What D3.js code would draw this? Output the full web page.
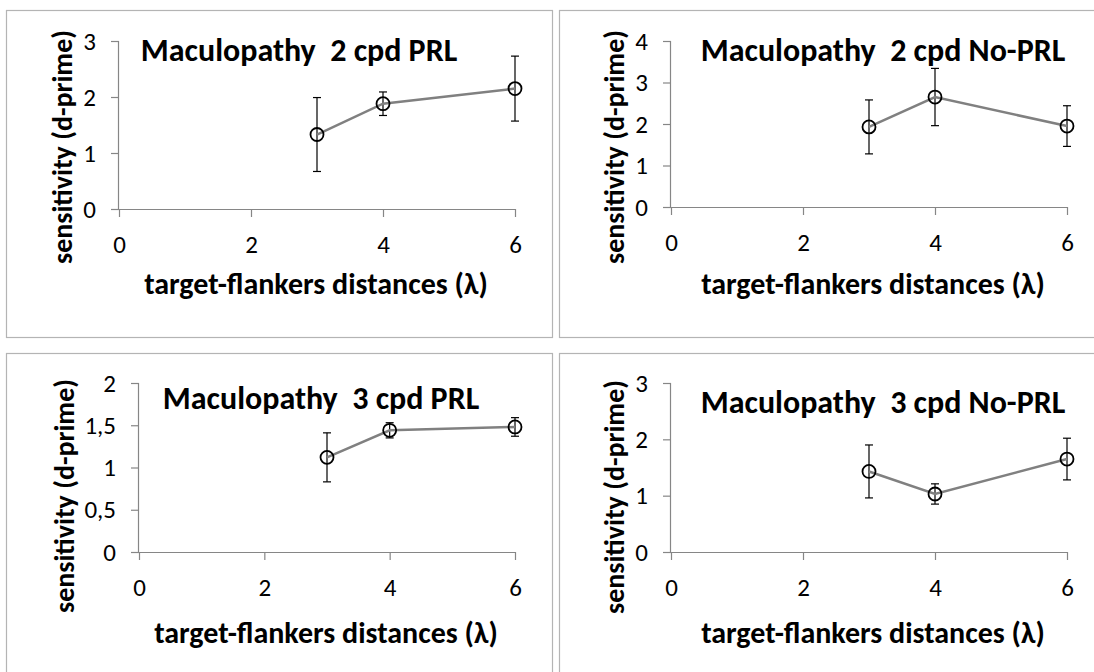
<!DOCTYPE html>
<html>
<head>
<meta charset="utf-8">
<script src="https://cdn.jsdelivr.net/npm/d3@7"></script>
<style>
  body { margin: 0; background: #fff; }
  text { font-family: Carlito, Calibri, Lato, sans-serif; }
  .tick text { font-size: 25px; }
</style>
</head>
<body>
<script>
// target-flankers distances (lambda)
const distances = [3, 4, 6];
const xTicks = [0, 2, 4, 6];

const titles = [
  "Maculopathy  2 cpd PRL",
  "Maculopathy  2 cpd No-PRL",
  "Maculopathy  3 cpd PRL",
  "Maculopathy  3 cpd No-PRL"
];

// mean d-prime and error-bar half widths
const mean2PRL   = [1.33, 1.88, 2.15];
const err2PRL    = [0.66, 0.21, 0.58];
const mean2NoPRL = [1.93, 2.65, 1.95];
const err2NoPRL  = [0.65, 0.69, 0.49];
const mean3PRL   = [1.12, 1.44, 1.48];
const err3PRL    = [0.29, 0.09, 0.11];
const mean3NoPRL = [1.43, 1.03, 1.65];
const err3NoPRL  = [0.47, 0.18, 0.37];

const yTicks2PRL   = [0, 1, 2, 3];
const yTicks2NoPRL = [0, 1, 2, 3, 4];
const yTicks3PRL   = [0, 0.5, 1, 1.5, 2];
const yTicks3NoPRL = [0, 1, 2, 3];

const xLabel = "target-flankers distances (\u03bb)";
const yLabel = "sensitivity (d-prime)";

const svg = d3.select("body").append("svg")
    .attr("width", 1094)
    .attr("height", 672);

// layout of each chart box (pixel positions)
const panels = [
  {mean: mean2PRL, err: err2PRL, yTicks: yTicks2PRL, title: titles[0],
   box: [6, 10, 546, 327], xr: [119, 515], yr: [209, 41],
   titleX: 299, titleY: 50, xlX: 316, xlY: 283, ylX: 62, ylY: 147},
  {mean: mean2NoPRL, err: err2NoPRL, yTicks: yTicks2NoPRL, title: titles[1],
   box: [559, 10, 560, 327], xr: [671, 1067], yr: [207, 41],
   titleX: 883, titleY: 50, xlX: 873, xlY: 283, ylX: 614, ylY: 147},
  {mean: mean3PRL, err: err3PRL, yTicks: yTicks3PRL, title: titles[2],
   box: [6, 353, 546, 340], xr: [139, 515], yr: [552, 383],
   titleX: 321, titleY: 398, xlX: 326, xlY: 632, ylX: 64, ylY: 496},
  {mean: mean3NoPRL, err: err3NoPRL, yTicks: yTicks3NoPRL, title: titles[3],
   box: [559, 353, 560, 340], xr: [671, 1067], yr: [552, 383],
   titleX: 883, titleY: 402, xlX: 873, xlY: 632, ylX: 614, ylY: 497}
];

const fmt = d => String(d).replace(".", ",");

panels.forEach(function(p) {
  const g = svg.append("g");

  g.append("rect")
      .attr("x", p.box[0] + 0.5)
      .attr("y", p.box[1] + 0.5)
      .attr("width", p.box[2])
      .attr("height", p.box[3])
      .attr("fill", "#fff")
      .attr("stroke", "#b4b4b4")
      .attr("stroke-width", 1.2);

  const x = d3.scaleLinear().domain([0, 6]).range(p.xr);
  const y = d3.scaleLinear().domain([0, d3.max(p.yTicks)]).range(p.yr);

  const xAxis = g.append("g")
      .attr("transform", `translate(0,${p.yr[0]})`)
      .call(d3.axisBottom(x).tickValues(xTicks).tickSize(8).tickPadding(18).tickFormat(fmt));

  const yAxis = g.append("g")
      .attr("transform", `translate(${p.xr[0]},0)`)
      .call(d3.axisLeft(y).tickValues(p.yTicks).tickSize(8).tickPadding(15).tickFormat(fmt));

  [xAxis, yAxis].forEach(function(a) {
    a.attr("font-size", null).attr("font-family", null);
    a.select(".domain").attr("stroke", "#868686").attr("stroke-width", 1.2);
    a.selectAll(".tick line").attr("stroke", "#868686").attr("stroke-width", 1.2);
    a.selectAll(".tick text").attr("fill", "#000");
  });
  xAxis.select(".domain").attr("d", `M${p.xr[0]},0.5H${p.xr[1]}`);
  yAxis.select(".domain").attr("d", `M-0.5,${p.yr[0]}V${p.yr[1]}`);

  const pts = distances.map((d, i) => ({x: d, y: p.mean[i], e: p.err[i]}));

  // error bars
  const eb = g.append("g").selectAll("g").data(pts).join("g");
  eb.append("line")
      .attr("x1", d => x(d.x)).attr("x2", d => x(d.x))
      .attr("y1", d => y(d.y + d.e)).attr("y2", d => y(d.y - d.e));
  eb.append("line")
      .attr("x1", d => x(d.x) - 4).attr("x2", d => x(d.x) + 4)
      .attr("y1", d => y(d.y + d.e)).attr("y2", d => y(d.y + d.e));
  eb.append("line")
      .attr("x1", d => x(d.x) - 4).attr("x2", d => x(d.x) + 4)
      .attr("y1", d => y(d.y - d.e)).attr("y2", d => y(d.y - d.e));
  eb.selectAll("line").attr("stroke", "#000").attr("stroke-width", 1.2);

  const line = d3.line()
      .x(d => x(d.x))
      .y(d => y(d.y));

  g.append("path")
      .datum(pts)
      .attr("fill", "none")
      .attr("stroke", "#808080")
      .attr("stroke-width", 2.5)
      .attr("d", line);

  g.append("g").selectAll("circle").data(pts).join("circle")
      .attr("cx", d => x(d.x))
      .attr("cy", d => y(d.y))
      .attr("r", 6.5)
      .attr("fill", "none")
      .attr("stroke", "#000")
      .attr("stroke-width", 1.8);

  g.append("text")
      .attr("x", p.titleX)
      .attr("y", p.titleY)
      .attr("dy", "0.35em")
      .attr("text-anchor", "middle")
      .style("white-space", "pre")
      .style("font-size", "32px")
      .style("font-weight", "bold")
      .text(p.title);

  g.append("text")
      .attr("x", p.xlX)
      .attr("y", p.xlY)
      .attr("dy", "0.35em")
      .attr("text-anchor", "middle")
      .style("font-size", "30px")
      .style("font-weight", "bold")
      .text(xLabel);

  g.append("text")
      .attr("transform", `translate(${p.ylX},${p.ylY}) rotate(-90)`)
      .attr("dy", "0.35em")
      .attr("text-anchor", "middle")
      .style("font-size", "28px")
      .style("font-weight", "bold")
      .text(yLabel);
});
</script>
</body>
</html>
